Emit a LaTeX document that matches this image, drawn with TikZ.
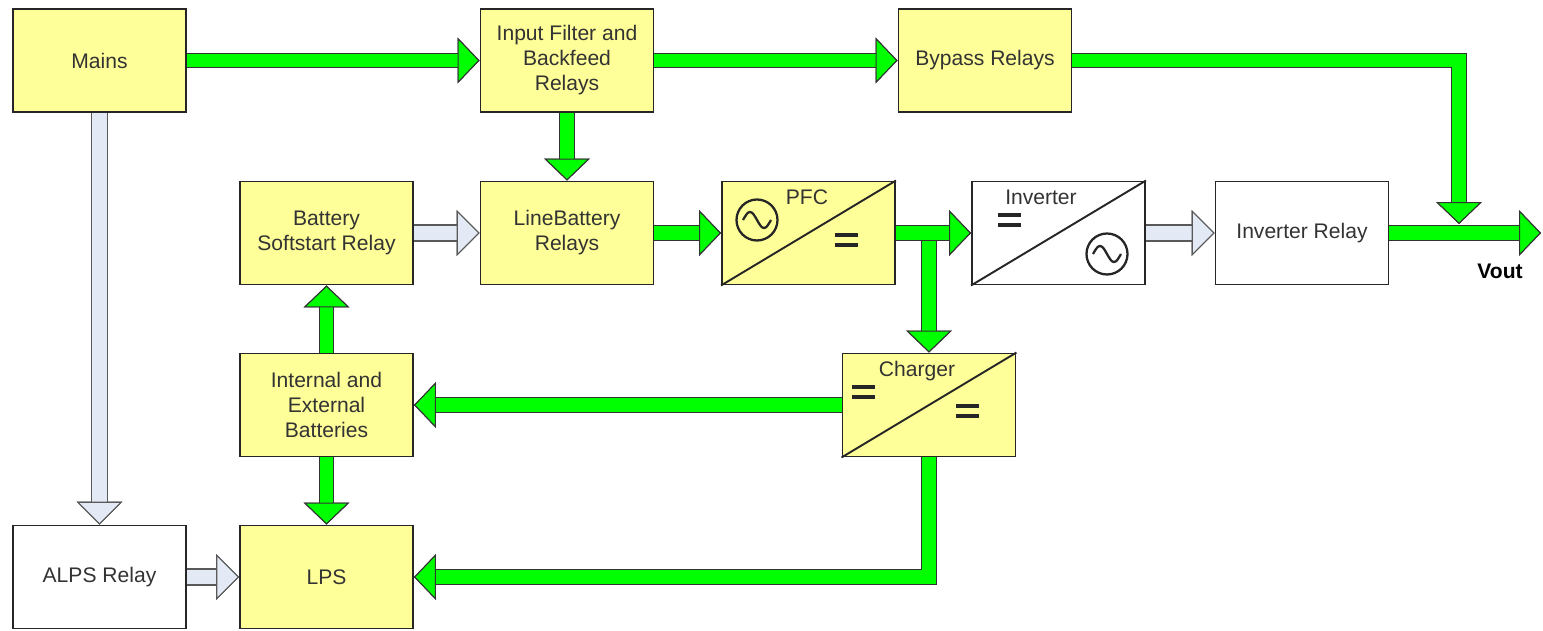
\documentclass[tikz,border=0pt]{standalone}
\usepackage{fontspec}
\setmainfont{Liberation Sans}
\usetikzlibrary{arrows.meta}
\definecolor{boxyellow}{HTML}{FFFF99}
\definecolor{flowgreen}{HTML}{00FF00}
\definecolor{auxblue}{HTML}{E4EAF5}
\tikzset{
  block/.style={draw=black!85,line width=1.1pt,fill=boxyellow,minimum width=3.46cm,
    minimum height=2.06cm,inner sep=0pt,align=center,text=black!80,
    font=\fontsize{12}{14.2}\selectfont},
  plain/.style={block,fill=white},
  caption/.style={text=black!80,font=\fontsize{12}{14.2}\selectfont,inner sep=0pt},
  diag/.style={draw=black!85,line width=1.1pt},
  dcbar/.style={draw=black!85,line width=1.8pt},
  acsign/.style={circle,draw=black!85,line width=1.3pt,minimum size=0.82cm,inner sep=0pt,
    path picture={\draw[line width=1.3pt] ([xshift=-0.28cm]path picture bounding box.center)
      sin ++(0.14cm,0.16cm) cos ++(0.14cm,-0.16cm) sin ++(0.14cm,-0.16cm) cos ++(0.14cm,0.16cm);}},
  power/.style={draw=flowgreen,line width=7.9pt,
    -{Triangle[width=26pt,length=12.5pt,line width=0.6pt 0,color=black!80,fill=flowgreen]},
    preaction={draw=black!80,line width=9.1pt,
      -{Triangle[width=26pt,length=12.5pt,line width=0.6pt 0,color=black!80,fill=flowgreen]}}},
  aux/.style={draw=auxblue,line width=8.5pt,
    -{Triangle[width=26pt,length=13pt,line width=0.6pt 0,color=black!65,fill=auxblue]},
    preaction={draw=black!65,line width=9.7pt,
      -{Triangle[width=26pt,length=13pt,line width=0.6pt 0,color=black!65,fill=auxblue]}}}
}
\begin{document}
\begin{tikzpicture}[x=0.02cm,y=-0.02cm]
  \useasboundingbox (0,0) rectangle (1543,631);
  % blocks
  \node[block] (mains) at (99.5,60.5) {Mains};
  \node[block] (filter) at (567,60.5) {Input Filter and\\Backfeed\\Relays};
  \node[block] (bypass) at (985,60.5) {Bypass Relays};
  \node[block] (softstart) at (326.5,233) {Battery\\Softstart Relay};
  \node[block] (linebat) at (567,233) {LineBattery\\Relays};
  \node[block] (pfc) at (808.5,233) {};
  \node[plain] (inverter) at (1058.5,233) {};
  \node[plain] (invrelay) at (1302,233) {Inverter Relay};
  \node[block] (batteries) at (326.5,405) {Internal and\\External\\Batteries};
  \node[block] (charger) at (929,405) {};
  \node[plain] (alps) at (99.5,577) {ALPS Relay};
  \node[block] (lps) at (326.5,577) {LPS};
  % converter symbols
  \draw[diag] (pfc.south west) -- (pfc.north east);
  \draw[diag] (inverter.south west) -- (inverter.north east);
  \draw[diag] (charger.south west) -- (charger.north east);
  \node[caption] (pfclabel) at (807,197) {PFC};
  \node[caption] (invlabel) at (1041,197) {Inverter};
  \node[caption] (chglabel) at (917,371) {Charger};
  \node[acsign] (pfcac) at (757,220) {};
  \node[acsign] (invac) at (1107,254) {};
  \draw[dcbar] (835,235) -- ++(23,0) (835,245) -- ++(23,0);
  \draw[dcbar] (998,215) -- ++(23,0) (998,225) -- ++(23,0);
  \draw[dcbar] (852,387) -- ++(23,0) (852,397) -- ++(23,0);
  \draw[dcbar] (956,406) -- ++(23,0) (956,416) -- ++(23,0);
  % power flow
  \coordinate (vout) at (1541,233);
  \coordinate (bypassjoin) at (1459,224);
  \draw[power] (mains.east) -- (filter.west);
  \draw[power] (filter.east) -- (bypass.west);
  \draw[power] (filter.south) -- (linebat.north);
  \draw[power] (linebat.east) -- (pfc.west);
  \draw[power] (charger.north |- pfc.east) -- (charger.north);
  \draw[power] (pfc.east) -- (inverter.west);
  \draw[power] (bypass.east) -| (bypassjoin);
  \draw[power] (invrelay.east) -- (vout);
  \draw[power] (charger.west) -- (batteries.east);
  \draw[power] (charger.south) |- (lps.east);
  \draw[power] (batteries.north) -- (softstart.south);
  \draw[power] (batteries.south) -- (lps.north);
  % auxiliary paths
  \draw[aux] (mains.south) -- (alps.north);
  \draw[aux] (softstart.east) -- (linebat.west);
  \draw[aux] (inverter.east) -- (invrelay.west);
  \draw[aux] (alps.east) -- (lps.west);
  \node[font=\fontsize{12}{14}\selectfont\bfseries,inner sep=0pt] (voutlabel) at (1500,271) {Vout};
\end{tikzpicture}
\end{document}
